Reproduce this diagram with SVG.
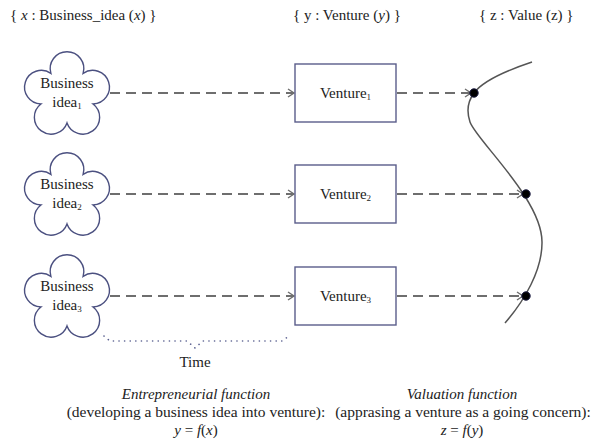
<svg xmlns="http://www.w3.org/2000/svg" width="594" height="441" viewBox="0 0 594 441">
<defs>
<style>
text{font-family:"Liberation Serif","Times New Roman",serif;font-size:15px;fill:#222;}
.c{text-anchor:middle;}
.i{font-style:italic;}
.p{font-size:15.5px;}
.sub{font-size:9px;}
.cloud{fill:#fff;stroke:#4b5080;stroke-width:1.4;}
.box{fill:#fff;stroke:#5a5d8a;stroke-width:1.4;}
.dash{fill:none;stroke:#6e6e6e;stroke-width:2;stroke-dasharray:10 6;}
.dot{fill:#000;stroke:#1a1a40;stroke-width:1;}
.curve{fill:none;stroke:#555;stroke-width:1.5;}
.brace{fill:none;stroke:#5a6090;stroke-width:1.6;stroke-dasharray:0.1 5.5;stroke-linecap:round;}
</style>
<path id="cl" d="M -16.11,-22.17 A 16.8 16.8 0 1 1 16.11,-22.17 A 16.8 16.8 0 1 1 26.06,8.47 A 16.8 16.8 0 1 1 0,27.4 A 16.8 16.8 0 1 1 -26.06,8.47 A 16.8 16.8 0 1 1 -16.11,-22.17 Z"/>
<marker id="arr" markerUnits="userSpaceOnUse" markerWidth="10" markerHeight="12" refX="7" refY="5" orient="auto">
<path d="M1,1 L7,5 L1,9" fill="none" stroke="#6e6e6e" stroke-width="1.4"/>
</marker>
</defs>
<rect width="594" height="441" fill="#fff"/>

<g id="headers">
<text x="10" y="20">{ <tspan class="i">x</tspan> : Business_idea (<tspan class="i">x</tspan>) }</text>
<text x="293" y="20">{ y : Venture (<tspan class="i">y</tspan>) }</text>
<text x="479" y="20">{ z : Value (z) }</text>
</g>

<g id="connectors">
<line class="dash" x1="110" y1="93" x2="294" y2="93" marker-end="url(#arr)"/>
<line class="dash" x1="110" y1="194" x2="294" y2="194" marker-end="url(#arr)"/>
<line class="dash" x1="110" y1="296" x2="294" y2="296" marker-end="url(#arr)"/>
<line class="dash" x1="397" y1="93" x2="471" y2="93" marker-end="url(#arr)"/>
<line class="dash" x1="397" y1="194" x2="523" y2="194" marker-end="url(#arr)"/>
<line class="dash" x1="397" y1="296" x2="523" y2="296" marker-end="url(#arr)"/>
</g>

<g id="idea1"><use href="#cl" transform="translate(67,95.5)" class="cloud"/>
<text class="c" x="67" y="88">Business</text><text class="c" x="67" y="107">idea<tspan class="sub" dy="2">1</tspan></text></g>
<g id="idea2"><use href="#cl" transform="translate(67,196.5)" class="cloud"/>
<text class="c" x="67" y="189">Business</text><text class="c" x="67" y="208">idea<tspan class="sub" dy="2">2</tspan></text></g>
<g id="idea3"><use href="#cl" transform="translate(67,298.5)" class="cloud"/>
<text class="c" x="67" y="291">Business</text><text class="c" x="67" y="310">idea<tspan class="sub" dy="2">3</tspan></text></g>

<g id="venture1"><rect class="box" x="295" y="64" width="101" height="58"/>
<text class="c" x="345.5" y="98">Venture<tspan class="sub" dy="2">1</tspan></text></g>
<g id="venture2"><rect class="box" x="295" y="165" width="101" height="58"/>
<text class="c" x="345.5" y="199">Venture<tspan class="sub" dy="2">2</tspan></text></g>
<g id="venture3"><rect class="box" x="295" y="267" width="101" height="58"/>
<text class="c" x="345.5" y="301">Venture<tspan class="sub" dy="2">3</tspan></text></g>

<g id="value">
<path class="curve" d="M532,62 C505,71 482,82 474,93 C468,101 466,110 470,122 C476,140 543,200 542,243 C542,270 525,300 505,323"/>
<circle class="dot" cx="474" cy="93" r="4.2"/>
<circle class="dot" cx="526" cy="194" r="4.2"/>
<circle class="dot" cx="526" cy="296" r="4.2"/>
</g>

<g id="time">
<path class="brace" d="M104,336 L110,341 L187,341 L195,348 L203,341 L282,341 L289,336"/>
<text class="c" x="195" y="367">Time</text>
</g>

<g id="captions">
<text class="c i" x="196" y="399">Entrepreneurial function</text>
<text class="c p" x="196" y="417">(developing a business idea into venture):</text>
<text class="c" x="196" y="435"><tspan class="i">y</tspan> = <tspan class="i">f</tspan>(<tspan class="i">x</tspan>)</text>
<text class="c i" x="462" y="399">Valuation function</text>
<text class="c p" x="463" y="417">(apprasing a venture as a going concern):</text>
<text class="c" x="462" y="435"><tspan class="i">z</tspan> = <tspan class="i">f</tspan>(<tspan class="i">y</tspan>)</text>
</g>
</svg>
